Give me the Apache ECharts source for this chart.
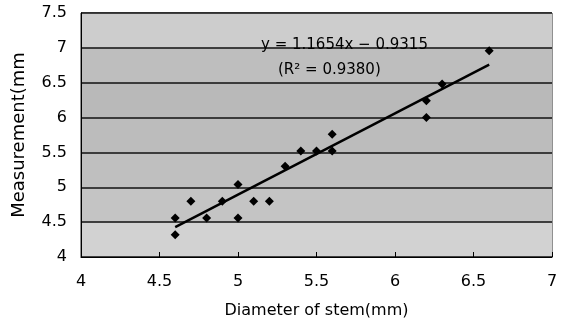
<!DOCTYPE html>
<html><head><meta charset="utf-8">
<script src="https://cdn.jsdelivr.net/npm/echarts@6/dist/echarts.min.js"></script>
<style>html,body{margin:0;padding:0;background:#fff}#c{width:561px;height:324px}</style>
</head><body><div id="c"></div>
<script>
var diameter = [4.6,4.6,4.7,4.8,4.9,5.0,5.0,5.1,5.2,5.3,5.4,5.5,5.6,5.6,6.2,6.2,6.3,6.6];
var measurement = [4.56,4.32,4.8,4.56,4.8,5.04,4.56,4.8,4.8,5.3,5.52,5.52,5.52,5.76,6.24,6.0,6.48,6.96];
var slope = 1.1654, intercept = -0.9315, fitRange = [4.6, 6.6];
var eqText = 'y = 1.1654x \u2212 0.9315';
var r2Text = '(R\u00b2 = 0.9380)';
var font = 'DejaVu Sans';
var pts = diameter.map(function(x,i){return [x, measurement[i]];});
var fit = fitRange.map(function(x){return [x, slope*x+intercept];});
var chart = echarts.init(document.getElementById('c'));
chart.setOption({
  animation:false,
  grid:{left:81,right:9,top:13,bottom:67,containLabel:false,outerBoundsMode:'none',show:true,borderColor:'#222',borderWidth:1,backgroundColor:'#c2c2c2'},
  xAxis:{type:'value',min:4,max:7,interval:0.5,
    name:'Diameter of stem(mm)',nameLocation:'middle',nameGap:46,
    nameTextStyle:{fontFamily:font,fontSize:16,color:'#000'},
    axisLine:{lineStyle:{color:'#000'}},
    axisTick:{inside:true,length:5,lineStyle:{color:'#000'}},
    axisLabel:{fontFamily:font,fontSize:16,color:'#000',margin:17},
    splitLine:{show:false}},
  yAxis:{type:'value',min:4,max:7.5,interval:0.5,
    name:'Measurement(mm',nameLocation:'middle',nameGap:53,
    nameTextStyle:{fontFamily:font,fontSize:18,color:'#000'},
    axisLine:{show:true,lineStyle:{color:'#000'}},
    axisTick:{show:false},
    axisLabel:{fontFamily:font,fontSize:16,color:'#000',margin:14},
    splitLine:{show:true,lineStyle:{color:'#111',width:1.5}},
    splitArea:{show:true,areaStyle:{color:['#d2d2d2','#c4c4c4','#bfbfbf','#bcbcbc','#b9b9b9','#bebebe','#cdcdcd']}}},
  series:[
    {type:'scatter',data:pts,symbol:'diamond',symbolSize:9,itemStyle:{color:'#000',opacity:1},z:4},
    {type:'line',data:fit,symbol:'none',lineStyle:{color:'#000',width:2.5},z:3}
  ],
  graphic:[
    {type:'text',left:261,top:38,z:100,style:{text:eqText,fontFamily:font,fontSize:15,fill:'#000'}},
    {type:'text',left:278,top:63,z:100,style:{text:r2Text,fontFamily:font,fontSize:15,fill:'#000'}}
  ]
});
</script></body></html>
